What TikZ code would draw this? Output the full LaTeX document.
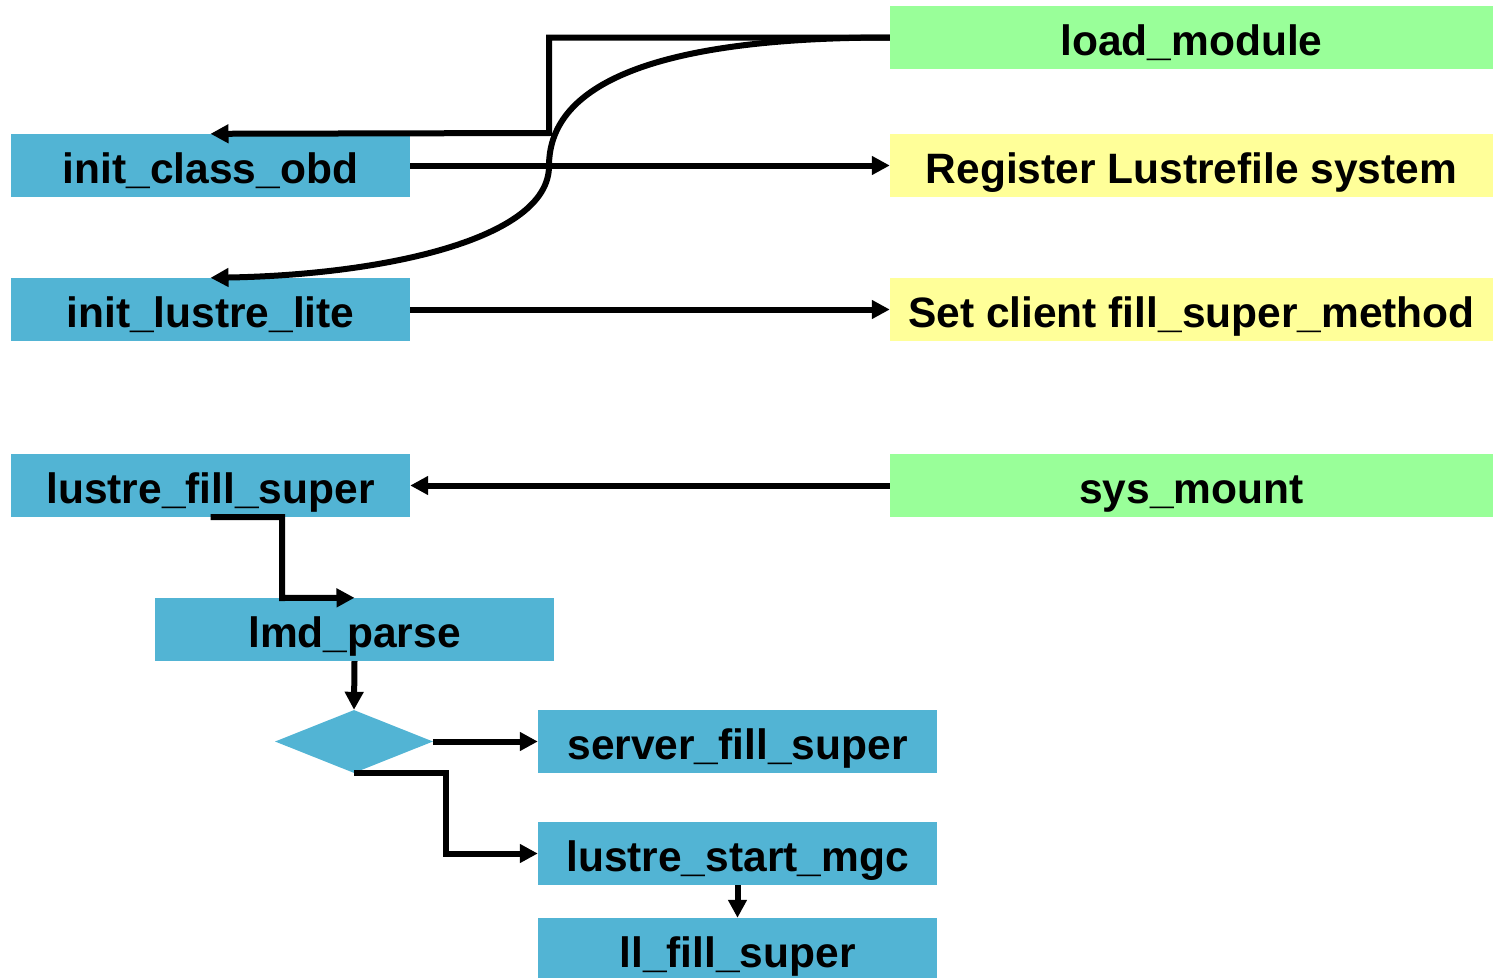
\documentclass[tikz,border=0pt]{standalone}
\usepackage{fontspec}
\setmainfont{Liberation Sans}
\usetikzlibrary{arrows.meta,shapes.geometric}
\definecolor{fnblue}{HTML}{52B4D4}
\definecolor{modgreen}{HTML}{99FF99}
\definecolor{noteyellow}{HTML}{FFFF99}
\tikzset{
  fnbox/.style={rectangle, fill=fnblue, minimum width=399pt, minimum height=63pt, inner sep=0pt,
    text height=38pt, text depth=3pt,
    font=\fontsize{42.5}{50}\selectfont\bfseries},
  widebox/.style={fnbox, minimum width=603pt},
  conn/.style={line width=6pt, line join=miter, -{Triangle[length=18pt,width=18pt]}}
}
\begin{document}
\begin{tikzpicture}[x=1pt,y=-1pt]
\useasboundingbox (0,0) rectangle (1493,977);
\begin{scope}
\clip (0,0) rectangle (1493,977);
% right column: modules and notes
\node[widebox, fill=modgreen] (load) at (1191.5,37.5) {load\_module};
\node[widebox, fill=noteyellow] (reg) at (1191.5,165.5) {Register Lustrefile system};
\node[widebox, fill=noteyellow] (setc) at (1191.5,309.5) {Set client fill\_super\_method};
\node[widebox, fill=modgreen] (sysm) at (1191.5,485.5) {sys\_mount};
% left column: functions
\node[fnbox] (ico) at (210.5,165.5) {init\_class\_obd};
\node[fnbox] (ill) at (210.5,309.5) {init\_lustre\_lite};
\node[fnbox] (lfs) at (210.5,485.5) {lustre\_fill\_super};
\node[fnbox] (lmd) at (354.5,629.5) {lmd\_parse};
\node[diamond, fill=fnblue, minimum width=158pt, minimum height=63pt, inner sep=0pt, aspect=2.5] (dia) at (354,741.5) {};
\node[fnbox] (sfs) at (737.5,741.5) {server\_fill\_super};
\node[fnbox] (lsm) at (737.5,853.5) {lustre\_start\_mgc};
\node[fnbox, minimum height=64pt] (llf) at (737.5,950) {ll\_fill\_super};
\end{scope}
% bend points
\coordinate (j1) at (549,133);
\coordinate (j2) at (282,598);
\coordinate (j3) at (446,853.5);
% connectors
\draw[conn] (load.west) -| (j1) -- (ico.north);
\draw[conn] (load.west) .. controls (640,37.5) and (549,90) .. (549,166)
  .. controls (549,240) and (380,275) .. (ill.north);
\draw[conn] (ico.east) -- (reg.west);
\draw[conn] (ill.east) -- (setc.west);
\draw[conn] (sysm.west) -- (lfs.east);
\draw[conn] (lfs.south) -| (j2) -- (lmd.north);
\draw[conn] (lmd.south) -- (dia.north);
\draw[conn] (dia.east) -- (sfs.west);
\draw[conn] (dia.south) -| (j3) -- (lsm.west);
\draw[conn] (lsm.south) -- (llf.north);
\end{tikzpicture}
\end{document}
